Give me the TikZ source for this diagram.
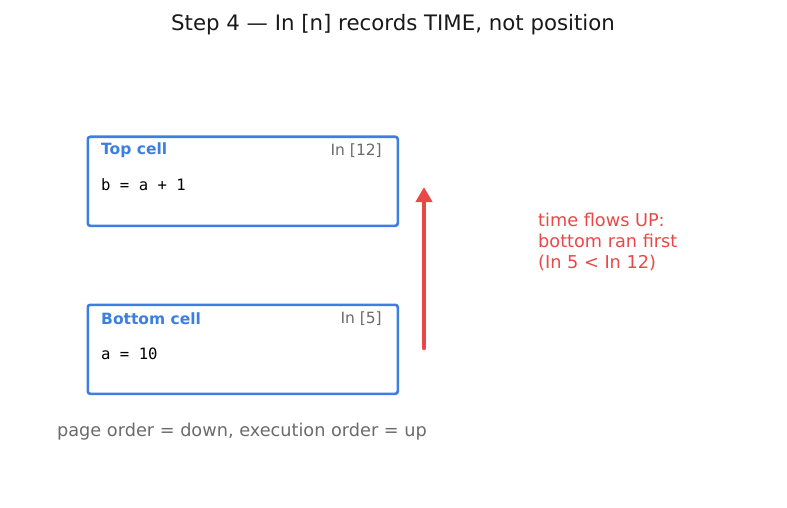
\documentclass[tikz,border=0pt]{standalone}
\usepackage{fontspec}
\setmainfont{DejaVu Sans}
\setmonofont{DejaVu Sans Mono}
\usetikzlibrary{arrows.meta}
\definecolor{cellblue}{HTML}{3B7FE0}
\definecolor{labgray}{HTML}{6B6B6B}
\definecolor{timered}{HTML}{E84848}
\begin{document}
\begin{tikzpicture}[x=1pt,y=-1pt,
  cellbox/.style={draw=cellblue,line width=2.6pt,rounded corners=2.5pt,minimum width=310pt,minimum height=89pt,anchor=north west,inner sep=0pt},
  celltitle/.style={anchor=west,text=cellblue,font=\fontsize{15.5}{18}\selectfont\bfseries,inner sep=0pt},
  cellin/.style={anchor=east,text=labgray,font=\fontsize{15.5}{18}\selectfont,inner sep=0pt},
  cellcode/.style={anchor=west,font=\fontsize{15.6}{18}\selectfont\ttfamily,inner sep=0pt},
  note/.style={text=timered,font=\fontsize{17.7}{21}\selectfont,align=left,anchor=west,inner sep=0pt}]
\useasboundingbox (0,0) rectangle (787,508);
\node[font=\fontsize{21.3}{25}\selectfont,text=black!90] (title) at (393,24.5) {Step 4 — In [n] records TIME, not position};
\node[cellbox] (top) at (86.5,135.5) {};
\node[celltitle] (toptitle) at (101,150.5) {Top cell};
\node[cellin] (topin) at (382,150.5) {In [12]};
\node[cellcode] (topcode) at (101,184.5) {b = a + 1};
\node[cellbox] (bot) at (86.5,303.5) {};
\node[celltitle] (bottitle) at (101,318.5) {Bottom cell};
\node[cellin] (botin) at (382,318.5) {In [5]};
\node[cellcode] (botcode) at (101,353.5) {a = 10};
\coordinate (astart) at (424,348);
\coordinate (aend) at (424,187);
\draw[timered,line width=4.5pt,line cap=round,-{Triangle[length=15pt,width=16pt]}] (astart) -- (aend);
\node[note] (timenote) at (538,242) {time flows UP:\\bottom ran first\\(In 5 < In 12)};
\node[text=labgray,font=\fontsize{17.7}{21}\selectfont] (caption) at (242,431.5) {page order = down, execution order = up};
\end{tikzpicture}
\end{document}
